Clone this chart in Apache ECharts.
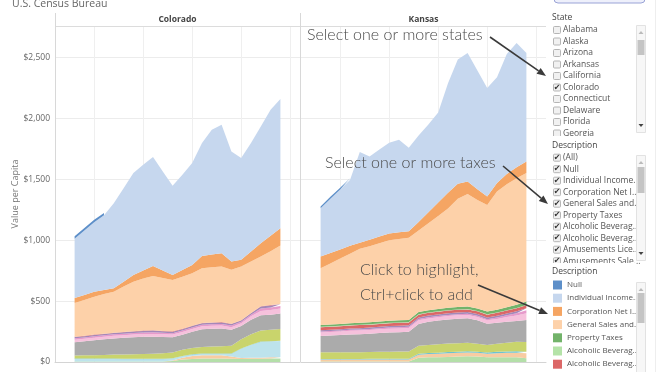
<!DOCTYPE html>
<html><head><meta charset="utf-8">
<script src="https://cdn.jsdelivr.net/npm/echarts@6/dist/echarts.min.js"></script>
<style>html,body{margin:0;padding:0;background:#fff}#c{width:672px;height:372px}</style>
</head><body><div id="c"></div>
<script>
// ---------- data ----------
const years = [1993,1994,1995,1996,1997,1998,1999,2000,2001,2002,2003,2004,2005,2006,2007,2008,2009,2010,2011,2012,2013,2014];
const axisYears = [1991,1992,1993,1994,1995,1996,1997,1998,1999,2000,2001,2002,2003,2004,2005,2006,2007,2008,2009,2010,2011,2012,2013,2014,2015,2016];
const states = ['Colorado', 'Kansas'];
const yTicks = [0, 500, 1000, 1500, 2000, 2500];

// stack order: bottom -> top
const layerNames = ['Taxes NEC','Tobacco Products Sales Tax','Severance','Other Selective Sales','Motor Vehicle License','Motor Fuels Sales Tax','Insurance Premiums Sales Tax','Hunting and Fishing License','Amusements Sales Tax','Alcoholic Beverages Sales Tax','Alcoholic Beverages License','Property Taxes','General Sales and Gross Receipts','Corporation Net Income','Individual Income','Null'];
const layerColors = ['#b4dfa9','#f8cca2','#bde3ec','#6cc2d2','#c9d46c','#ababab','#f6c1dc','#e79acb','#a488b9','#dc6767','#b4e3a8','#72b36a','#fdd1a9','#f5a563','#c6d7ee','#5d8fc9'];

// Colorado values per layer (same order as layerNames)
const coL = [5,5,5,5,5,5,5,5,5,5,8,20,25,28,28,28,26,25,26,27,28,28];
const coK = [0,0,0,0,0,0,0,0,0,0,5,15,25,28,28,28,20,8,8,8,10,12];
const coJ = [20,20,20,20,20,18,18,18,18,18,15,12,10,10,10,10,20,75,105,130,130,132];
const coI = [3,3,3,3,3,3,3,3,3,3,3,3,3,3,3,3,3,3,3,3,3,3];
const coH = [25,27,28,30,33,35,38,40,42,45,48,50,52,55,58,60,65,75,85,90,93,96];
const coG = [110,115,122,128,133,138,140,142,140,135,125,124,133,146,147,146,130,110,120,125,125,128];
const coF = [20,20,21,21,21,21,22,22,22,22,21,22,23,24,24,24,22,22,28,36,38,40];
const coE = [12,12,12,12,12,12,12,12,14,12,12,12,12,12,12,13,13,12,14,20,20,20];
const coD = [10,10,11,11,11,12,12,13,14,12,12,12,12,12,12,13,13,10,11,16,18,15];
const coC = [3,3,3,3,3,3,3,3,3,3,3,3,3,3,3,3,3,3,3,3,3,3];
const coB = [0,0,0,0,0,0,0,0,0,0,0,0,0,0,0,0,0,0,0,0,0,0];
const coA = [0,0,0,0,0,0,0,0,0,0,0,0,0,0,0,0,0,0,0,0,0,0];
const coSales = [277,295,312,325,337,373,407,427,446,435,422,427,431,450,453,456,442,441,422,408,442,480];
const coCorp = [41,41,41,34,28,40,55,67,82,62,41,56,68,100,105,110,68,55,82,110,127,142];
const coIncome = [487,529,570,613,699,768,837,868,894,813,732,782,837,927,1025,1055,905,836,891,959,1035,1061];
const coNull = [20,20,20,18,'-','-','-','-','-','-','-','-','-','-','-','-','-','-','-','-','-','-'];

// Kansas values per layer
const ksL = [5,5,5,5,5,5,5,5,5,5,35,38,40,42,45,48,45,38,40,40,38,30];
const ksK = [15,15,15,15,15,16,16,16,16,16,25,27,28,30,30,30,30,30,32,35,38,41];
const ksJ = [0,0,0,0,0,0,0,0,0,0,0,0,0,0,0,0,0,0,0,0,0,0];
const ksI = [5,5,5,5,5,5,6,6,6,6,8,8,9,10,10,10,10,11,12,12,13,14];
const ksH = [55,55,55,56,56,57,58,58,60,60,65,67,68,70,70,70,65,60,65,72,78,80];
const ksG = [133,137,141,145,147,150,153,157,158,161,180,190,195,198,201,201,192,175,173,172,169,180];
const ksF = [30,30,30,30,30,30,31,31,31,31,30,28,28,27,27,27,28,28,32,38,45,56];
const ksE = [8,8,8,9,9,9,9,10,10,10,10,10,10,10,10,10,10,10,12,15,20,25];
const ksD = [10,10,10,10,11,11,11,12,12,12,13,13,13,14,14,14,14,14,14,15,15,15];
const ksC = [25,25,25,25,25,24,24,24,24,24,23,23,22,22,22,22,22,23,24,24,25,25];
const ksB = [3,3,3,3,3,3,3,3,3,3,3,3,3,3,3,3,3,3,3,3,3,3];
const ksA = [15,15,15,15,16,16,16,16,17,17,18,18,19,19,20,20,21,22,23,24,26,27];
const ksSales = [466,502,538,572,608,624,643,662,668,675,670,715,765,815,888,925,890,876,970,1010,1040,1056];
const ksCorp = [96,85,75,65,50,55,55,55,55,55,70,90,110,130,125,103,90,70,70,85,90,95];
const ksIncome = [396,447,491,539,745,683,715,745,761,685,710,720,740,900,1019,1056,975,891,870,985,1021,892];
const ksNull = [15,15,15,15,'-','-','-','-','-','-','-','-','-','-','-','-','-','-','-','-','-','-'];

const stateLayers = [
  [coL,coK,coJ,coI,coH,coG,coF,coE,coD,coC,coB,coA,coSales,coCorp,coIncome,coNull],
  [ksL,ksK,ksJ,ksI,ksH,ksG,ksF,ksE,ksD,ksC,ksB,ksA,ksSales,ksCorp,ksIncome,ksNull]
];

// filter panel texts
const stateList = ['Alabama','Alaska','Arizona','Arkansas','California','Colorado','Connecticut','Delaware','Florida','Georgia'];
const stateChecked = ['Colorado'];
const descList = ['(All)','Null','Individual Income...','Corporation Net I...','General Sales and...','Property Taxes','Alcoholic Beverag...','Alcoholic Beverag...','Amusements Lice...','Amusements Sale...'];
const legendNames = ['Null','Individual Income','Corporation Net Income','General Sales and Gross Receipts','Property Taxes','Alcoholic Beverages License','Alcoholic Beverages Sales Tax'];
const legendLabels = ['Null','Individual Income...','Corporation Net I...','General Sales and...','Property Taxes','Alcoholic Beverag...','Alcoholic Beverag...'];

// ---------- build ----------
const UI = '"Open Sans", "Noto Sans", sans-serif';
const HAND = 'Lato, "Noto Sans", sans-serif';
function pad(vals) {
  return axisYears.map(y => { const i = years.indexOf(y); return i < 0 ? '-' : vals[i]; });
}

const series = [];
states.forEach((st, s) => {
  stateLayers[s].forEach((vals, k) => {
    series.push({
      name: layerNames[k], type: 'line', xAxisIndex: s, yAxisIndex: s, stack: 'st' + s,
      data: pad(vals), symbol: 'none', showSymbol: false, silent: true,
      color: layerColors[k], lineStyle: { width: 0 },
      areaStyle: { color: layerColors[k], opacity: 1 }
    });
  });
});

const gridTop = 26, gridH = 336, gridW = 245;
const grids = [{ left: 55, top: gridTop, width: gridW, height: gridH }, { left: 301, top: gridTop, width: gridW, height: gridH }];
const xAxes = grids.map((g, i) => ({
  type: 'category', gridIndex: i, data: axisYears.map(String), boundaryGap: false,
  axisLine: { show: true, lineStyle: { color: '#d4d4d4' } }, axisTick: { show: false }, axisLabel: { show: false },
  splitLine: { show: true, interval: (idx, v) => Number(v) % 5 === 0, lineStyle: { color: '#efefef' } }
}));
const yAxes = grids.map((g, i) => ({
  type: 'value', gridIndex: i, min: 0, max: 2760, interval: 500,
  name: i === 0 ? 'Value per Capita' : '', nameLocation: 'middle', nameGap: 33,
  nameTextStyle: { color: '#777', fontSize: 9, fontFamily: UI },
  axisLine: { show: false }, axisTick: { show: false },
  axisLabel: { show: i === 0, color: '#666', fontSize: 8.5, fontFamily: UI, margin: 5,
    formatter: v => yTicks.indexOf(v) >= 0 ? '$' + v.toLocaleString('en-US') : '' },
  splitLine: { show: true, lineStyle: { color: '#ececec' } }
}));

// ---------- graphics (headers, panels, annotations) ----------
const G = [];
function txt(x, y, t, o) { G.push(Object.assign({ type: 'text', x: x, y: y, z: 10, style: Object.assign({ text: t, fill: '#555', font: '8.5px ' + UI, align: 'left', verticalAlign: 'middle' }, o || {}) })); }
function line(x1, y1, x2, y2, c, w, z) { G.push({ type: 'line', z: z || 10, shape: { x1, y1, x2, y2 }, style: { stroke: c, lineWidth: w } }); }
function rect(x, y, w, h, fill, stroke, z, r) { G.push({ type: 'rect', z: z || 10, shape: { x, y, width: w, height: h, r: r || 0 }, style: { fill: fill, stroke: stroke || null, lineWidth: 1 } }); }
function poly(pts, fill, z) { G.push({ type: 'polygon', z: z || 12, shape: { points: pts }, style: { fill: fill } }); }

txt(12, 4, 'U.S. Census Bureau', { font: '10.5px ' + UI, fill: '#666' });
// header band
txt(177.5, 19.5, states[0], { align: 'center', font: 'bold 8.5px ' + UI, fill: '#444' });
txt(423.5, 19.5, states[1], { align: 'center', font: 'bold 8.5px ' + UI, fill: '#444' });
line(55, 26.5, 546, 26.5, '#dcdcdc', 1, 5);
line(55.5, 13, 55.5, 362, '#d8d8d8', 1, 5);
line(300.5, 13, 300.5, 362, '#d8d8d8', 1, 5);

// top slider
rect(554, -7, 91, 10, '#eef0fb', '#9aa3d6', 10, 4);
line(655.5, 0, 655.5, 372, '#eeeeee', 1, 5);

function scrollbar(y1, y2, t1, t2, upDisabled) {
  rect(636.5, y1 + 0.5, 9, y2 - y1, '#f7f7f7', '#e2e2e2', 10);
  rect(637.5, t1, 7, t2 - t1, '#c4c4c4', null, 11);
  poly([[638.5, y1 + 9], [643.5, y1 + 9], [641, y1 + 6]], upDisabled ? '#bbbbbb' : '#555', 12);
  if (y2 < 370) poly([[638.5, y2 - 8], [643.5, y2 - 8], [641, y2 - 5]], '#444', 12);
}
function checkbox(x, y, checked) {
  rect(x + 0.5, y - 3.5, 7, 7, '#f1f1f1', '#b5b5b5', 10, 1);
  if (checked) txt(x + 4, y, '\u2714', { align: 'center', font: '8px "DejaVu Sans"', fill: '#333' });
}
// State filter
txt(552, 18, 'State', { fill: '#444', font: '8.5px ' + UI });
stateList.forEach((s, i) => {
  const y = 30 + i * 11.5;
  checkbox(553, y, stateChecked.indexOf(s) >= 0);
  txt(563, y, s);
});
rect(548, 136, 88, 4, '#fff', null, 13);
scrollbar(25, 132, 40, 55, true);

// Description filter
txt(552, 146, 'Description', { fill: '#444', font: '8.5px ' + UI });
descList.forEach((s, i) => {
  const y = 157.7 + i * 11.5;
  checkbox(553, y, true);
  txt(563, y, s);
});
rect(548, 263, 88, 4, '#fff', null, 13);
scrollbar(155, 260, 167, 193, true);

// Legend header and scrollbar
txt(552, 272, 'Description', { fill: '#444', font: '8.5px ' + UI });
scrollbar(282, 380, 293, 323, true);

// annotations
const handStyle = { font: '300 16px ' + HAND, fill: '#4a4a4a' };
txt(307, 35, 'Select one or more states', handStyle);
txt(325, 163, 'Select one or more taxes', handStyle);
txt(360, 270, 'Click to highlight,', handStyle);
txt(360, 295, 'Ctrl+click to add', handStyle);
function arrow(x1, y1, x2, y2) {
  const dx = x2 - x1, dy = y2 - y1, L = Math.hypot(dx, dy), ux = dx / L, uy = dy / L;
  const bx = x2 - 9 * ux, by = y2 - 9 * uy, px = -uy * 3.6, py = ux * 3.6;
  line(x1, y1, bx, by, '#3a3a3a', 1.6, 12);
  poly([[x2, y2], [bx + px, by + py], [bx - px, by - py]], '#3a3a3a', 12);
}
arrow(490, 37, 546, 76);
arrow(503, 166, 548, 204);
arrow(478, 285, 548, 314);

const chart = echarts.init(document.getElementById('c'), null, { renderer: 'canvas' });
chart.setOption({
  animation: false,
  backgroundColor: '#fff',
  grid: grids,
  xAxis: xAxes,
  yAxis: yAxes,
  legend: {
    data: legendNames, orient: 'vertical', left: 553, top: 280.5, padding: 0,
    itemWidth: 9, itemHeight: 9, itemGap: 4.2, icon: 'rect', selectedMode: false,
    formatter: name => legendLabels[legendNames.indexOf(name)],
    textStyle: { color: '#555', fontSize: 8, fontFamily: UI }
  },
  series: series,
  graphic: { elements: G }
});
</script></body></html>
